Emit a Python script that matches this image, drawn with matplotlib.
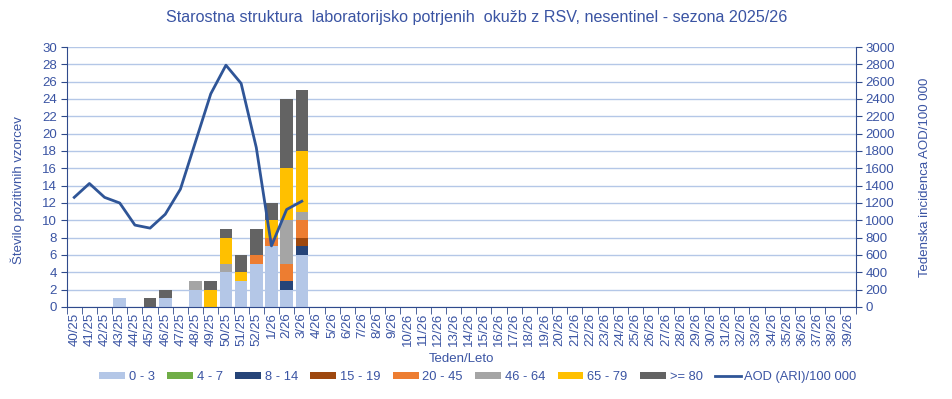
import numpy as np
import matplotlib
matplotlib.use("Agg")
import matplotlib.pyplot as plt
from matplotlib.patches import Patch
from matplotlib.lines import Line2D
from matplotlib.ticker import MultipleLocator, FixedLocator

plt.rcParams['font.family'] = ['Liberation Sans', 'DejaVu Sans']

# week labels 40/25 .. 39/26
weeks = [f"{w}/25" for w in range(40, 53)] + [f"{w}/26" for w in range(1, 40)]

age_groups = ["0 - 3", "4 - 7", "8 - 14", "15 - 19", "20 - 45", "46 - 64", "65 - 79", ">= 80"]
colors = ["#B4C7E7", "#70AD47", "#264478", "#9E480E", "#ED7D31", "#A5A5A5", "#FFC000", "#636363"]

# counts for weeks 40/25 .. 3/26 (rest empty)
g_0_3 =   [0, 0, 0, 1, 0, 0, 1, 0, 2, 0, 4, 3, 5, 7, 2, 6]
g_4_7 =   [0, 0, 0, 0, 0, 0, 0, 0, 0, 0, 0, 0, 0, 0, 0, 0]
g_8_14 =  [0, 0, 0, 0, 0, 0, 0, 0, 0, 0, 0, 0, 0, 0, 1, 1]
g_15_19 = [0, 0, 0, 0, 0, 0, 0, 0, 0, 0, 0, 0, 0, 0, 0, 1]
g_20_45 = [0, 0, 0, 0, 0, 0, 0, 0, 0, 0, 0, 0, 1, 1, 2, 2]
g_46_64 = [0, 0, 0, 0, 0, 0, 0, 0, 1, 0, 1, 0, 0, 0, 5, 1]
g_65_79 = [0, 0, 0, 0, 0, 0, 0, 0, 0, 2, 3, 1, 0, 2, 6, 7]
g_80 =    [0, 0, 0, 0, 0, 1, 1, 0, 0, 1, 1, 2, 3, 2, 8, 7]

# AOD (ARI) incidence per 100 000
aod = [1265, 1425, 1265, 1200, 945, 910, 1070, 1360, 1910, 2460, 2790, 2580, 1840, 705, 1125, 1220]

series = [g_0_3, g_4_7, g_8_14, g_15_19, g_20_45, g_46_64, g_65_79, g_80]

txt = "#3A54A3"
axis_col = "#2F4A8C"
line_col = "#2F5597"

fig = plt.figure(figsize=(9.52, 3.99), dpi=100)
ax = fig.add_axes([0.070, 0.2306, 0.8287, 0.6516])

n = len(weeks)
x = np.arange(n)
bottom = np.zeros(n)
for vals, c in zip(series, colors):
    v = np.zeros(n)
    v[:len(vals)] = vals
    ax.bar(x, v, width=0.83, bottom=bottom, color=c, zorder=2)
    bottom += v

ax.set_xlim(-0.5, n - 0.5)
ax.set_ylim(0, 30)
ax.yaxis.set_major_locator(MultipleLocator(2))
ax.grid(axis='y', color="#B4C7E7", lw=1, zorder=0)
ax.set_axisbelow(True)

ax.set_xticks(x)
ax.set_xticklabels(weeks, rotation=90, fontsize=9.5, color=txt)
ax.tick_params(axis='x', which='major', length=0, pad=4)
ax.xaxis.set_minor_locator(FixedLocator(np.arange(-0.5, n, 1)))
ax.tick_params(axis='x', which='minor', length=5, color=axis_col, direction='out')
ax.tick_params(axis='y', labelsize=9.5, labelcolor=txt, color=axis_col, length=4, pad=3)

for s in ['left', 'bottom']:
    ax.spines[s].set_color(axis_col)
ax.spines['top'].set_visible(False)
ax.spines['right'].set_visible(False)

ax.set_ylabel("Število pozitivnih vzorcev", fontsize=9.5, color=txt)
ax.yaxis.set_label_coords(-0.053, 0.45)
ax.set_xlabel("Teden/Leto", fontsize=9.5, color=txt, labelpad=5)

ax2 = ax.twinx()
ax2.plot(np.arange(len(aod)), aod, color=line_col, lw=2, zorder=3)
ax2.set_ylim(0, 3000)
ax2.yaxis.set_major_locator(MultipleLocator(200))
ax2.tick_params(axis='y', labelsize=9.5, labelcolor=txt, color=axis_col, length=4, pad=3)
ax2.spines['right'].set_color(axis_col)
ax2.spines['top'].set_visible(False)
ax2.spines['left'].set_visible(False)
ax2.spines['bottom'].set_visible(False)
ax2.set_ylabel("Tedenska incidenca AOD/100 000", fontsize=9.5, color=txt, labelpad=17)

fig.suptitle("Starostna struktura  laboratorijsko potrjenih  okužb z RSV, nesentinel - sezona 2025/26",
             fontsize=11.6, color=txt, x=0.501, y=0.975)

handles = [Patch(facecolor=c, edgecolor='none') for c in colors]
handles.append(Line2D([0], [0], color=line_col, lw=2))
labels = age_groups + ["AOD (ARI)/100 000"]
leg = fig.legend(handles, labels, loc='center', bbox_to_anchor=(0.502, 0.055), ncol=9,
                 frameon=False, fontsize=9.3, handlelength=2.0, handleheight=0.5,
                 handletextpad=0.3, columnspacing=0.95, labelcolor=txt)

fig.savefig("out.png", dpi=100)
